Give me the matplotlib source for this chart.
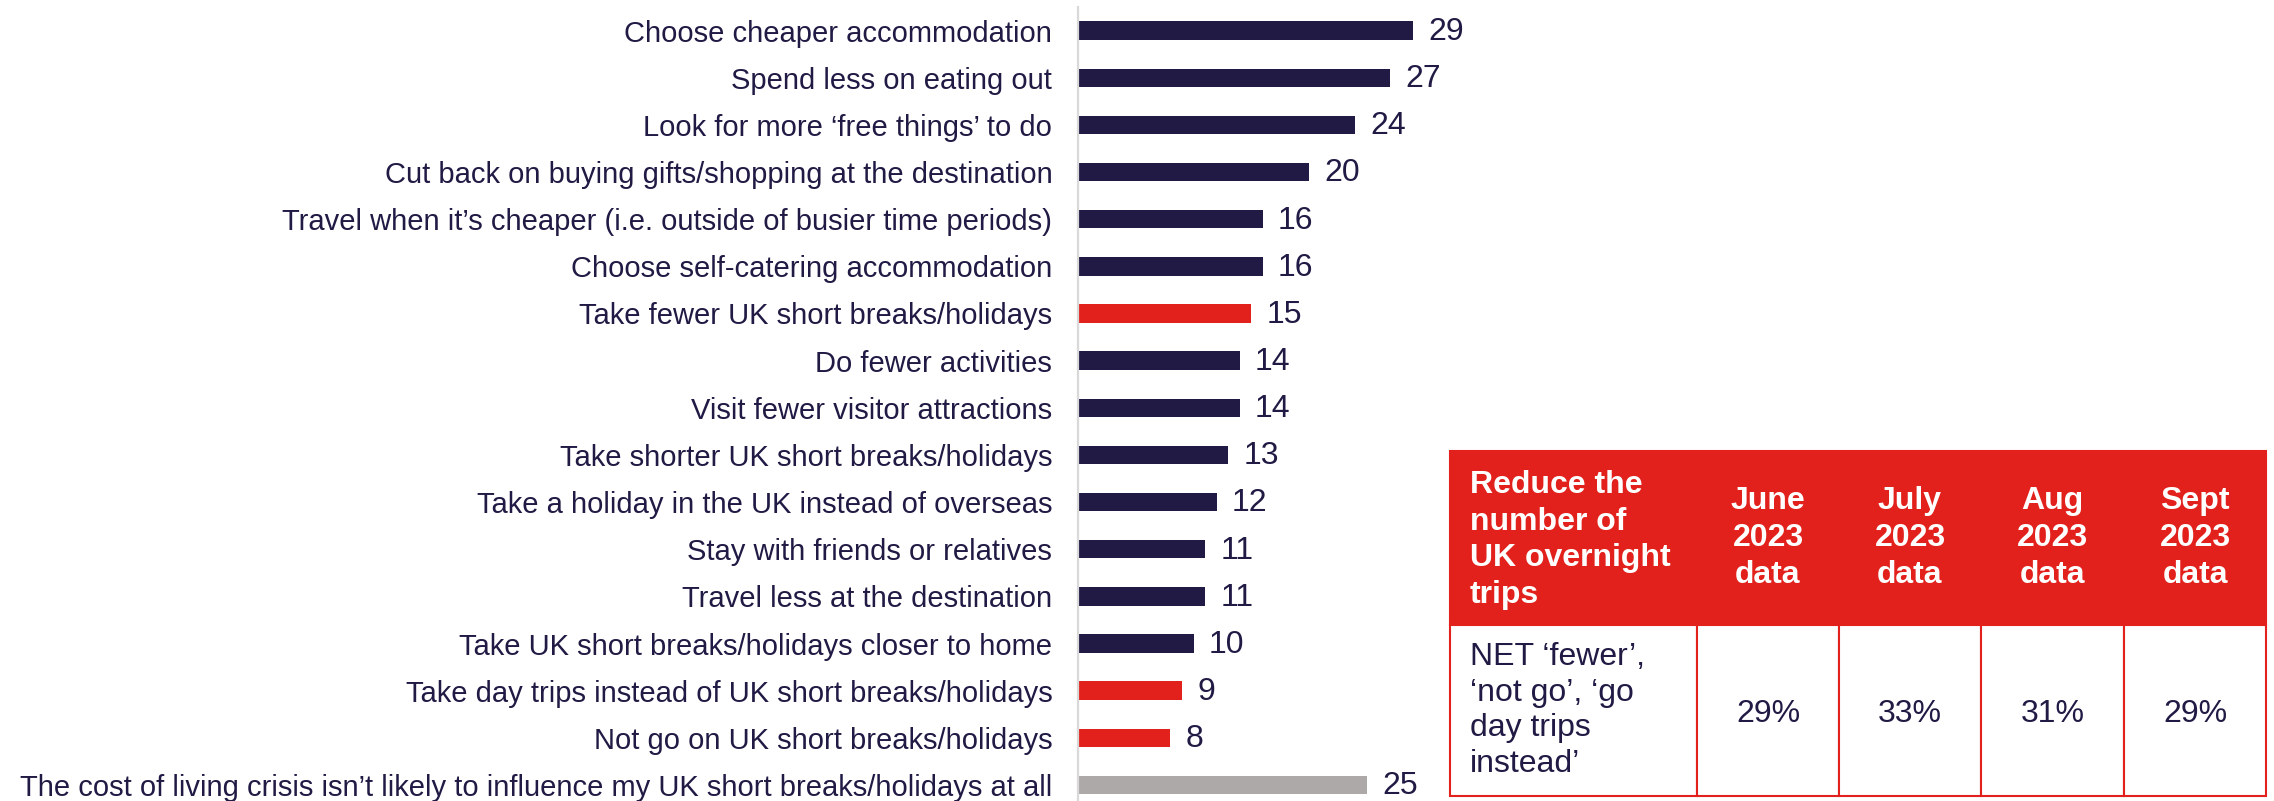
import matplotlib
matplotlib.use("Agg")
import matplotlib.pyplot as plt
from matplotlib.patches import Rectangle

plt.rcParams['font.family'] = ['Liberation Sans', 'DejaVu Sans']

# bar chart data
categories = [
    "Choose cheaper accommodation",
    "Spend less on eating out",
    "Look for more \u2018free things\u2019 to do",
    "Cut back on buying gifts/shopping at the destination",
    "Travel when it\u2019s cheaper (i.e. outside of busier time periods)",
    "Choose self-catering accommodation",
    "Take fewer UK short breaks/holidays",
    "Do fewer activities",
    "Visit fewer visitor attractions",
    "Take shorter UK short breaks/holidays",
    "Take a holiday in the UK instead of overseas",
    "Stay with friends or relatives",
    "Travel less at the destination",
    "Take UK short breaks/holidays closer to home",
    "Take day trips instead of UK short breaks/holidays",
    "Not go on UK short breaks/holidays",
    "The cost of living crisis isn\u2019t likely to influence my UK short breaks/holidays at all",
]
values = [29, 27, 24, 20, 16, 16, 15, 14, 14, 13, 12, 11, 11, 10, 9, 8, 25]
groups = ["other"] * 6 + ["trips"] + ["other"] * 7 + ["trips", "trips", "none"]

# table data
table_header = ["Reduce the\nnumber of\nUK overnight\ntrips",
                "June\n2023\ndata", "July\n2023\ndata", "Aug\n2023\ndata", "Sept\n2023\ndata"]
table_row_label = "NET \u2018fewer\u2019,\n\u2018not go\u2019, \u2018go\nday trips\ninstead\u2019"
table_values = ["29%", "33%", "31%", "29%"]

NAVY = "#201A44"
RED = "#E2211C"
GREY = "#ADA9A8"
colour_map = {"other": NAVY, "trips": RED, "none": GREY}

W, H = 2274, 801
fig = plt.figure(figsize=(W / 100, H / 100), dpi=100)

# bar axes placed in pixel units
x0, x1 = 1078, 1440
ax = fig.add_axes([x0 / W, 0, (x1 - x0) / W, 1 - 7 / H])
ypos = list(range(len(values)))
ax.barh(ypos, values, height=0.39, color=[colour_map[g] for g in groups])
ax.set_xlim(0, (x1 - x0) / 11.55)
ax.set_ylim(16.34, -0.5)
for y, v in zip(ypos, values):
    ax.annotate(str(v), (v, y), xytext=(11, -1), textcoords='offset points',
                va='center', ha='left', fontsize=23, color=NAVY)

ax.set_yticks(ypos)
ax.set_yticklabels(categories, fontsize=21, color=NAVY)
ax.tick_params(axis='y', length=0, pad=18.5)
ax.set_xticks([])
for s in ['top', 'right', 'bottom']:
    ax.spines[s].set_visible(False)
ax.spines['left'].set_color('#D9D9D9')
ax.spines['left'].set_linewidth(1.6)

# table drawn in pixel coordinates
tax = fig.add_axes([0, 0, 1, 1])
tax.set_xlim(0, W)
tax.set_ylim(H, 0)
tax.axis('off')
col_edges = [1450, 1697, 1839, 1981, 2124, 2266]
top, mid, bottom = 451, 625, 796

tax.add_patch(Rectangle((col_edges[0], top), col_edges[-1] - col_edges[0], mid - top,
                        facecolor=RED, edgecolor=RED, lw=1.5))
for i in range(5):
    tax.add_patch(Rectangle((col_edges[i], mid), col_edges[i + 1] - col_edges[i], bottom - mid,
                            facecolor='white', edgecolor=RED, lw=1.5))

tax.text(col_edges[0] + 20, (top + mid) / 2 + 2, table_header[0], ha='left', va='center',
         fontsize=23, fontweight='bold', color='white', linespacing=1.3)
for i in range(1, 5):
    tax.text((col_edges[i] + col_edges[i + 1]) / 2, (top + mid) / 2, table_header[i],
             ha='center', va='center', fontsize=23, fontweight='bold', color='white',
             linespacing=1.3)

tax.text(col_edges[0] + 20, (mid + bottom) / 2, table_row_label, ha='left', va='center',
         fontsize=23, color=NAVY, linespacing=1.25)
for i, v in enumerate(table_values):
    tax.text((col_edges[i + 1] + col_edges[i + 2]) / 2, (mid + bottom) / 2 + 3, v,
             ha='center', va='center', fontsize=23, color=NAVY)

fig.savefig("out.png", dpi=100)
